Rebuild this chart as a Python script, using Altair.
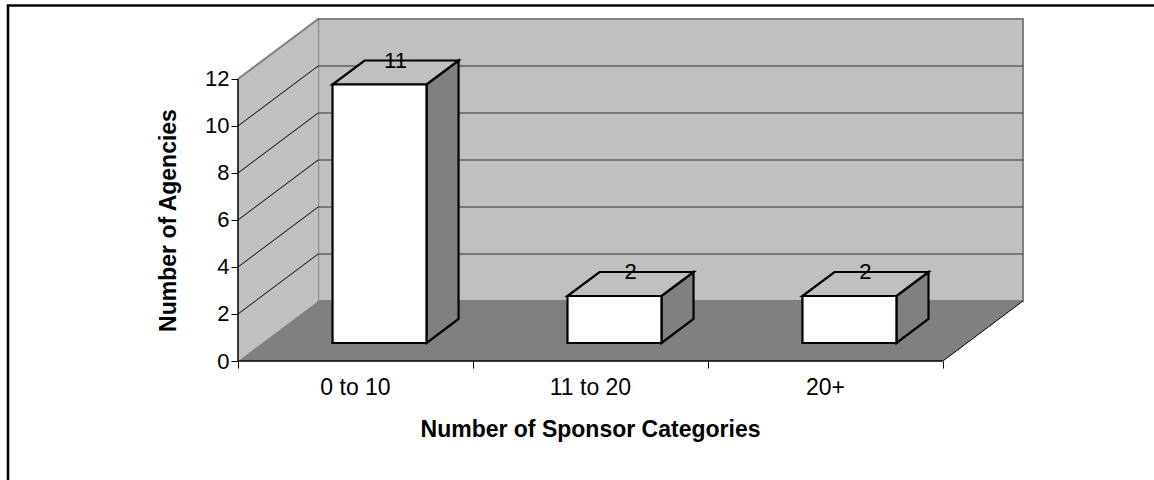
import altair as alt
import pandas as pd

# ---- data ----
categories = ["0 to 10", "11 to 20", "20+"]
agencies = [11, 2, 2]
y_ticks = [0, 2, 4, 6, 8, 10, 12]
x_ticks = [0, 1, 2, 3]
y_title = "Number of Agencies"
x_title = "Number of Sponsor Categories"

# ---- 3-D geometry (in data units) ----
Y_MAX = 12
DEPTH_X = 0.341   # depth of the 3-D box, in category units
DEPTH_Y = 2.553   # depth of the 3-D box, in value units
BAR_HALF = 0.2    # half width of a bar, in category units
BAR_FRONT = 0.30  # where the bar front sits along the depth
BAR_DEPTH = 0.40  # depth of the bar
N = len(categories)
FONT = "Liberation Sans"

xs = alt.Scale(domain=[0, N + DEPTH_X], nice=False, zero=False)
ys = alt.Scale(domain=[0, Y_MAX + DEPTH_Y], nice=False, zero=False)

x_axis = alt.Axis(
    values=x_ticks, labels=False, domain=False, grid=False,
    tickSize=7, tickColor="black", tickWidth=1,
    title=x_title, titleFont=FONT, titleFontSize=23, titleFontWeight="bold",
    titleColor="black", titleX=352, titleY=75, titleAlign="center",
    titleBaseline="alphabetic")
y_axis = alt.Axis(
    values=y_ticks, format="d", domain=False, grid=False,
    tickSize=7, tickColor="black", tickWidth=1,
    labelFont=FONT, labelFontSize=22, labelColor="black", labelPadding=2,
    labelOverlap=False, labelFlush=False,
    title=y_title, titleFont=FONT, titleFontSize=23, titleFontWeight="bold",
    titleColor="black", titleX=-70, titleY=201, titleAngle=270,
    titleAlign="center", titleBaseline="middle")


def X(f, **kw):
    return alt.X(f, type="quantitative", scale=xs, axis=x_axis, **kw)


def Y(f, **kw):
    return alt.Y(f, type="quantitative", scale=ys, axis=y_axis, stack=None, **kw)


# ---- back wall ----
wall_df = pd.DataFrame({"x": [DEPTH_X], "x2": [N + DEPTH_X],
                        "y": [DEPTH_Y], "y2": [Y_MAX + DEPTH_Y]})
back_wall = alt.Chart(wall_df).mark_rect(
    fill="#c0c0c0", stroke="#808080", strokeWidth=2
).encode(x=X("x"), x2="x2:Q", y=Y("y"), y2="y2:Q")

# ---- side wall ----
side_df = pd.DataFrame({"x": [0, DEPTH_X], "y": [0, DEPTH_Y],
                        "y2": [Y_MAX, Y_MAX + DEPTH_Y]})
side_wall = alt.Chart(side_df).mark_area(fill="#c0c0c0", opacity=1).encode(
    x=X("x"), y=Y("y"), y2="y2:Q")

# ---- floor ----
floor_df = pd.DataFrame({"x": [0, DEPTH_X, N, N + DEPTH_X],
                         "y": [0, 0, 0, DEPTH_Y],
                         "y2": [0, DEPTH_Y, DEPTH_Y, DEPTH_Y]})
floor = alt.Chart(floor_df).mark_area(fill="#808080", opacity=1).encode(
    x=X("x"), y=Y("y"), y2="y2:Q")

# ---- grid lines ----
inner = y_ticks[1:-1]
back_grid_df = pd.DataFrame({"x": [DEPTH_X] * len(inner),
                             "x2": [N + DEPTH_X] * len(inner),
                             "y": [v + DEPTH_Y for v in inner]})
back_grid = alt.Chart(back_grid_df).mark_rule(color="#303030", strokeWidth=1).encode(
    x=X("x"), x2="x2:Q", y=Y("y"))

side_grid_df = pd.DataFrame({"x": [0] * len(inner), "x2": [DEPTH_X] * len(inner),
                             "y": inner, "y2": [v + DEPTH_Y for v in inner]})
side_grid = alt.Chart(side_grid_df).mark_rule(color="black", strokeWidth=1).encode(
    x=X("x"), x2="x2:Q", y=Y("y"), y2="y2:Q")

side_top_df = pd.DataFrame({"x": [0], "x2": [DEPTH_X], "y": [Y_MAX],
                            "y2": [Y_MAX + DEPTH_Y]})
side_top = alt.Chart(side_top_df).mark_rule(color="#808080", strokeWidth=2).encode(
    x=X("x"), x2="x2:Q", y=Y("y"), y2="y2:Q")

floor_edge_df = pd.DataFrame({"x": [N], "x2": [N + DEPTH_X], "y": [0], "y2": [DEPTH_Y]})
floor_edge = alt.Chart(floor_edge_df).mark_rule(color="black", strokeWidth=1).encode(
    x=X("x"), x2="x2:Q", y=Y("y"), y2="y2:Q")

# ---- axis lines ----
y_line_df = pd.DataFrame({"x": [0], "y": [0], "y2": [Y_MAX]})
y_line = alt.Chart(y_line_df).mark_rule(color="black", strokeWidth=1.5).encode(
    x=X("x"), y=Y("y"), y2="y2:Q")
x_line_df = pd.DataFrame({"x": [0], "x2": [N], "y": [0]})
x_line = alt.Chart(x_line_df).mark_rule(color="black", strokeWidth=1.5).encode(
    x=X("x"), x2="x2:Q", y=Y("y"))

# ---- bars ----
dx_f = BAR_FRONT * DEPTH_X
dy_f = BAR_FRONT * DEPTH_Y
dx_b = BAR_DEPTH * DEPTH_X
dy_b = BAR_DEPTH * DEPTH_Y

front_rows, side_rows, top_rows, lab_rows, cat_rows = [], [], [], [], []
for i, (cat, v) in enumerate(zip(categories, agencies)):
    c = i + 0.5
    xl = c - BAR_HALF + dx_f
    xr = c + BAR_HALF + dx_f
    yb = dy_f
    yt = v + dy_f
    front_rows.append({"cat": cat, "x": xl, "x2": xr, "y": yb, "y2": yt})
    side_rows += [
        {"cat": cat, "x": xr, "y": yb, "y2": yt},
        {"cat": cat, "x": xr + dx_b, "y": yb + dy_b, "y2": yt + dy_b},
    ]
    top_rows += [
        {"cat": cat, "x": xl, "y": yt, "y2": yt},
        {"cat": cat, "x": xl + dx_b, "y": yt, "y2": yt + dy_b},
        {"cat": cat, "x": xr, "y": yt, "y2": yt + dy_b},
        {"cat": cat, "x": xr + dx_b, "y": yt + dy_b, "y2": yt + dy_b},
    ]
    lab_rows.append({"x": c + 0.5 * DEPTH_X, "y": v + 0.58 * DEPTH_Y, "label": str(v)})
    cat_rows.append({"x": c, "y": 0, "label": cat})

bar_side = alt.Chart(pd.DataFrame(side_rows)).mark_area(
    fill="#808080", stroke="black", strokeWidth=2.2, strokeJoin="miter", opacity=1
).encode(x=X("x"), y=Y("y"), y2="y2:Q", detail="cat:N")

bar_top = alt.Chart(pd.DataFrame(top_rows)).mark_area(
    fill="#c0c0c0", stroke="black", strokeWidth=2.2, strokeJoin="miter", opacity=1
).encode(x=X("x"), y=Y("y"), y2="y2:Q", detail="cat:N")

bar_front = alt.Chart(pd.DataFrame(front_rows)).mark_rect(
    fill="white", stroke="black", strokeWidth=2.2, strokeJoin="miter"
).encode(x=X("x"), x2="x2:Q", y=Y("y"), y2="y2:Q")

value_labels = alt.Chart(pd.DataFrame(lab_rows)).mark_text(
    font=FONT, fontSize=22, color="black", align="center", baseline="alphabetic"
).encode(x=X("x"), y=Y("y"), text="label:N")

cat_labels = alt.Chart(pd.DataFrame(cat_rows)).mark_text(
    font=FONT, fontSize=23, color="black", align="center", baseline="alphabetic", dy=34
).encode(x=X("x"), y=Y("y"), text="label:N")

# ---- outer frame of the figure ----
frame = alt.Chart(pd.DataFrame({"k": [0]})).mark_rect(
    filled=False, stroke="black", strokeWidth=2.5
).encode(x=alt.value(-230), x2=alt.value(960), y=alt.value(-13.5), y2=alt.value(520))

chart = alt.layer(
    back_wall, side_wall, floor, back_grid, side_grid, side_top, floor_edge,
    y_line, x_line, bar_side, bar_top, bar_front, value_labels, cat_labels, frame
).properties(
    width=785, height=342,
    autosize=alt.AutoSizeParams(type="none"),
    padding={"left": 238, "top": 19, "right": 131, "bottom": 119},
    background="white",
).configure_view(stroke=None)

chart.save("out.html", embed_options={"renderer": "svg", "actions": False})
